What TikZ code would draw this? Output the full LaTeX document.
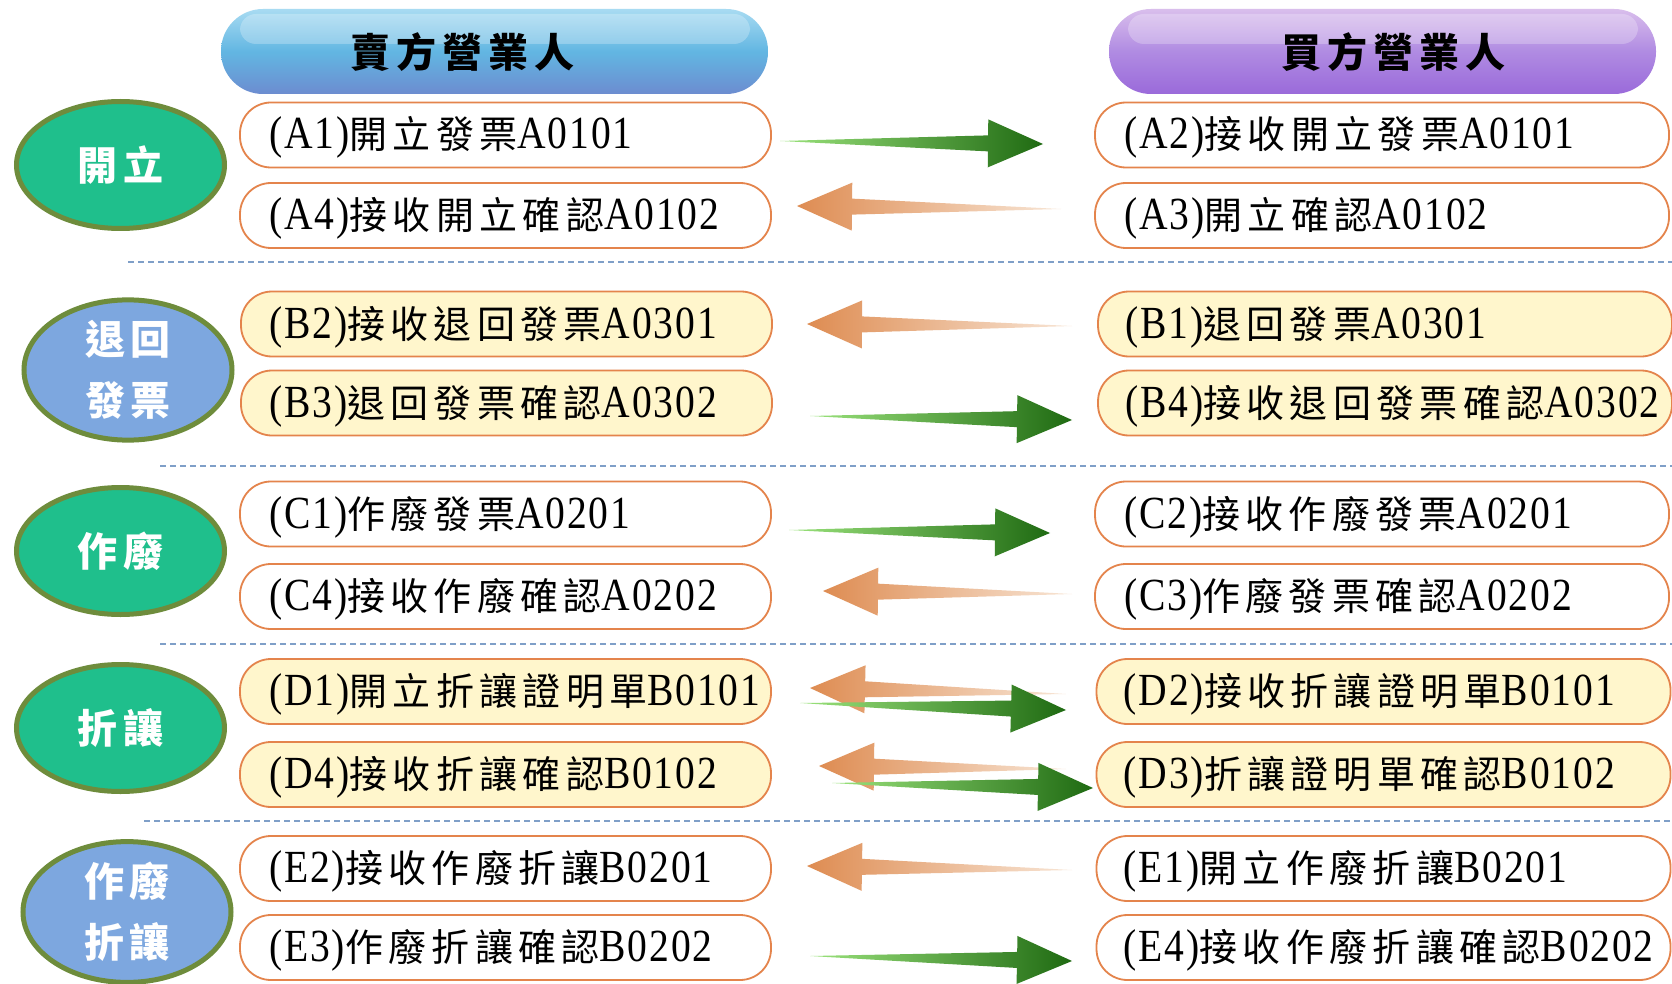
\documentclass[tikz,border=0pt]{standalone}
\usepackage{fontspec}
\setmainfont{Liberation Serif}
\newfontfamily\cjk[LetterSpace=14]{Noto Sans CJK TC}
\newfontfamily\cjkt[LetterSpace=15]{Noto Sans CJK TC}
\newfontfamily\lat[FakeStretch=0.86,LetterSpace=4]{Liberation Serif}
\usetikzlibrary{calc,shapes.geometric}
\definecolor{boxline}{HTML}{E4844C}
\definecolor{boxyellow}{HTML}{FFF6CC}
\definecolor{ring}{HTML}{6E8C3C}
\definecolor{phgreen}{HTML}{1FBF8C}
\definecolor{phblue}{HTML}{7DA7DF}
\definecolor{dashcol}{HTML}{7F9FC8}
\definecolor{hbtop}{HTML}{A8DBF2}
\definecolor{hbmid}{HTML}{62B6E2}
\definecolor{hbbot}{HTML}{6C8CD0}
\definecolor{hptop}{HTML}{D9BEEC}
\definecolor{hpmid}{HTML}{B08BE2}
\definecolor{hpbot}{HTML}{9A6ADA}
\definecolor{grnlight}{HTML}{9BE37C}
\definecolor{grnmid}{HTML}{3DB322}
\definecolor{grndark}{HTML}{1F6A12}
\definecolor{orglight}{HTML}{F8E6D6}
\definecolor{orgmid}{HTML}{EDB384}
\definecolor{orgdark}{HTML}{DE8C52}
\newcommand\lbl[3]{{\lat\fontsize{46pt}{48pt}\selectfont#1}{\cjk\fontsize{38pt}{44pt}\selectfont#2}{\lat\fontsize{46pt}{48pt}\selectfont#3}}
\newcommand\fatarrow[3]{%
  \shade[#3] (#1)
    -- ($(#2)!55pt!(#1)!8pt!90:(#2)$)
    -- ($(#2)!55pt!(#1)!24pt!90:(#2)$)
    -- (#2)
    -- ($(#2)!55pt!(#1)!24pt!-90:(#2)$)
    -- ($(#2)!55pt!(#1)!8pt!-90:(#2)$)
    -- cycle;}
\begin{document}
\begin{tikzpicture}[x=1pt,y=-1pt,
  hdr/.style={rectangle, minimum width=547pt, minimum height=85pt, rounded corners=42pt, inner sep=0pt},
  hdrtext/.style={inner sep=0pt, font=\cjkt\bfseries\fontsize{40pt}{44pt}\selectfont, text=black},
  phase/.style={ellipse, draw=ring, line width=5pt, minimum width=208pt, minimum height=127pt, inner sep=0pt, text=white, align=center, font=\cjk\bfseries\fontsize{40pt}{61pt}\selectfont},
  rowbox/.style={draw=boxline, line width=1.8pt, rounded corners=31pt, minimum height=65pt, inner sep=0pt, fill=white},
  ybox/.style={rowbox, fill=boxyellow},
  lbox/.style={minimum width=531pt},
  rbox/.style={minimum width=574pt},
  rowtext/.style={anchor=west, inner sep=0pt, text height=30pt, text depth=2pt},
  dashline/.style={draw=dashcol, line width=1.3pt, dash pattern=on 6pt off 4pt},
  garrow/.style={left color=grnlight, middle color=grnmid, right color=grndark},
  oarrow/.style={left color=orgdark, middle color=orgmid, right color=orglight}
]
\useasboundingbox (0,0) rectangle (1672,984);
\fill[white] (0,0) rectangle (1672,984);

% headers
\node[hdr, top color=hbtop, bottom color=hbbot, middle color=hbmid] (seller) at (494.5,51.5) {};
\node[hdr, top color=hptop, bottom color=hpbot, middle color=hpmid] (buyer) at (1382.5,51.5) {};
\fill[white, opacity=0.25, rounded corners=16pt] (240,14) rectangle (750,44);
\fill[white, opacity=0.25, rounded corners=16pt] (1128,14) rectangle (1638,44);
\node[hdrtext] (sellertxt) at (462,52) {賣方營業人};
\node[hdrtext] (buyertxt) at (1393,52) {買方營業人};

% phase ellipses
\node[phase, fill=phgreen] (pA) at (120.5,165) {開立};
\node[phase, fill=phblue] (pB) at (128,370) {退回\\發票};
\node[phase, fill=phgreen] (pC) at (120.5,551) {作廢};
\node[phase, fill=phgreen] (pD) at (120.5,728) {折讓};
\node[phase, fill=phblue] (pE) at (127,912) {作廢\\折讓};

% dashed separators
\draw[dashline] (128,262) -- (1672,262);
\draw[dashline] (160,466) -- (1672,466);
\draw[dashline] (160,644) -- (1672,644);
\draw[dashline] (144,821) -- (1672,821);

% seller boxes
\node[rowbox, lbox] (A1) at (505.5,135) {};
\node[rowbox, lbox] (A4) at (505.5,215.5) {};
\node[ybox, lbox] (B2) at (506.5,324) {};
\node[ybox, lbox] (B3) at (506.5,403) {};
\node[rowbox, lbox] (C1) at (505.5,514) {};
\node[rowbox, lbox] (C4) at (505.5,596.5) {};
\node[ybox, lbox] (D1) at (505.5,691.5) {};
\node[ybox, lbox] (D4) at (505.5,774.5) {};
\node[rowbox, lbox] (E2) at (505.5,868.5) {};
\node[rowbox, lbox] (E3) at (505.5,947.5) {};
% buyer boxes
\node[rowbox, rbox] (A2) at (1382,135) {};
\node[rowbox, rbox] (A3) at (1382,215.5) {};
\node[ybox, rbox] (B1) at (1385,324) {};
\node[ybox, rbox] (B4) at (1385,403) {};
\node[rowbox, rbox] (C2) at (1382,514) {};
\node[rowbox, rbox] (C3) at (1382,596.5) {};
\node[ybox, rbox] (D2) at (1383.5,691.5) {};
\node[ybox, rbox] (D3) at (1383.5,774.5) {};
\node[rowbox, rbox] (E1) at (1383.5,868.5) {};
\node[rowbox, rbox] (E4) at (1383.5,947.5) {};

% labels
\node[rowtext] (A1t) at ($(A1.west)+(30,0)$) {\lbl{(A1)}{開立發票}{A0101}};
\node[rowtext] (A4t) at ($(A4.west)+(30,0)$) {\lbl{(A4)}{接收開立確認}{A0102}};
\node[rowtext] (B2t) at ($(B2.west)+(29,0)$) {\lbl{(B2)}{接收退回發票}{A0301}};
\node[rowtext] (B3t) at ($(B3.west)+(29,0)$) {\lbl{(B3)}{退回發票確認}{A0302}};
\node[rowtext] (C1t) at ($(C1.west)+(30,0)$) {\lbl{(C1)}{作廢發票}{A0201}};
\node[rowtext] (C4t) at ($(C4.west)+(30,0)$) {\lbl{(C4)}{接收作廢確認}{A0202}};
\node[rowtext] (D1t) at ($(D1.west)+(30,0)$) {\lbl{(D1)}{開立折讓證明單}{B0101}};
\node[rowtext] (D4t) at ($(D4.west)+(30,0)$) {\lbl{(D4)}{接收折讓確認}{B0102}};
\node[rowtext] (E2t) at ($(E2.west)+(30,0)$) {\lbl{(E2)}{接收作廢折讓}{B0201}};
\node[rowtext] (E3t) at ($(E3.west)+(30,0)$) {\lbl{(E3)}{作廢折讓確認}{B0202}};
\node[rowtext] (A2t) at ($(A2.west)+(30,0)$) {\lbl{(A2)}{接收開立發票}{A0101}};
\node[rowtext] (A3t) at ($(A3.west)+(30,0)$) {\lbl{(A3)}{開立確認}{A0102}};
\node[rowtext] (B1t) at ($(B1.west)+(28,0)$) {\lbl{(B1)}{退回發票}{A0301}};
\node[rowtext] (B4t) at ($(B4.west)+(28,0)$) {\lbl{(B4)}{接收退回發票確認}{A0302}};
\node[rowtext] (C2t) at ($(C2.west)+(30,0)$) {\lbl{(C2)}{接收作廢發票}{A0201}};
\node[rowtext] (C3t) at ($(C3.west)+(30,0)$) {\lbl{(C3)}{作廢發票確認}{A0202}};
\node[rowtext] (D2t) at ($(D2.west)+(28,0)$) {\lbl{(D2)}{接收折讓證明單}{B0101}};
\node[rowtext] (D3t) at ($(D3.west)+(28,0)$) {\lbl{(D3)}{折讓證明單確認}{B0102}};
\node[rowtext] (E1t) at ($(E1.west)+(28,0)$) {\lbl{(E1)}{開立作廢折讓}{B0201}};
\node[rowtext] (E4t) at ($(E4.west)+(28,0)$) {\lbl{(E4)}{接收作廢折讓確認}{B0202}};

% arrow end points
\coordinate (gA0) at (780,141);  \coordinate (gA1) at (1043,144);
\coordinate (oA0) at (1061,209); \coordinate (oA1) at (797,206);
\coordinate (oB0) at (1072,326); \coordinate (oB1) at (807,324);
\coordinate (gB0) at (810,416);  \coordinate (gB1) at (1072,420);
\coordinate (gC0) at (789,530);  \coordinate (gC1) at (1050,533);
\coordinate (oC0) at (1072,594); \coordinate (oC1) at (823,591);
\coordinate (oD0) at (1066,694); \coordinate (oD1) at (810,688);
\coordinate (gD0) at (800,703);  \coordinate (gD1) at (1066,710);
\coordinate (oE0) at (1066,769); \coordinate (oE1) at (819,766);
\coordinate (gE0) at (832,783);  \coordinate (gE1) at (1093,788);
\coordinate (oF0) at (1072,870); \coordinate (oF1) at (807,866);
\coordinate (gF0) at (810,956);  \coordinate (gF1) at (1072,961);

\fatarrow{gA0}{gA1}{garrow}
\fatarrow{oA0}{oA1}{oarrow}
\fatarrow{oB0}{oB1}{oarrow}
\fatarrow{gB0}{gB1}{garrow}
\fatarrow{gC0}{gC1}{garrow}
\fatarrow{oC0}{oC1}{oarrow}
\fatarrow{oD0}{oD1}{oarrow}
\fatarrow{gD0}{gD1}{garrow}
\fatarrow{oE0}{oE1}{oarrow}
\fatarrow{gE0}{gE1}{garrow}
\fatarrow{oF0}{oF1}{oarrow}
\fatarrow{gF0}{gF1}{garrow}
\end{tikzpicture}
\end{document}
